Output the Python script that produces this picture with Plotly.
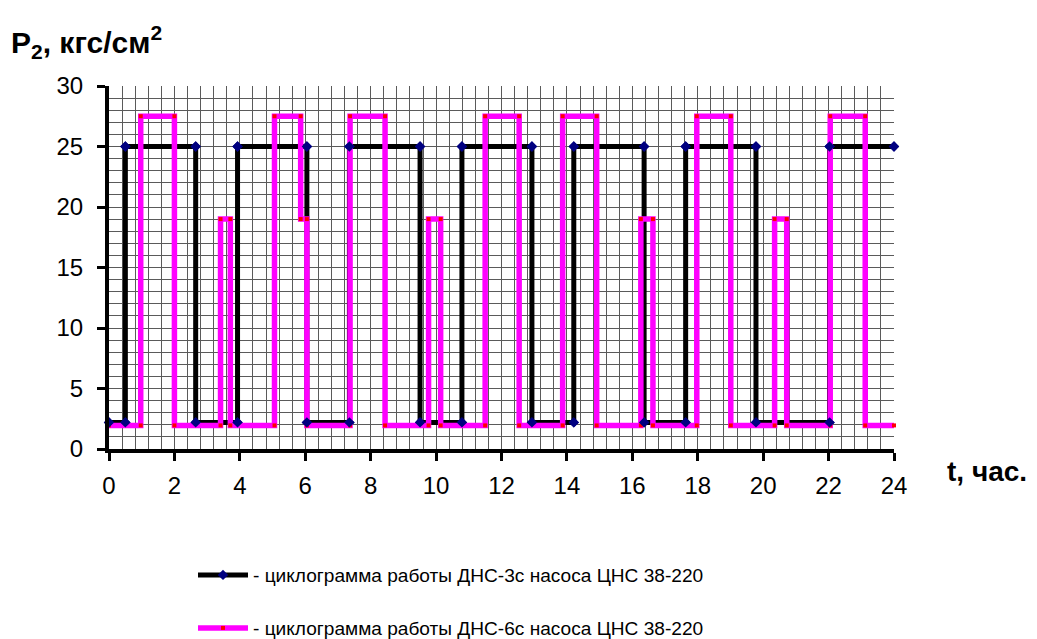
import plotly.graph_objects as go

# ДНС-3с (black) cycle: time points (h) and pressure (kgf/cm2)
t_dns3 = [0, 0.5, 0.5, 2.65, 2.65, 3.93, 3.93, 6.05, 6.05, 7.35, 7.35, 9.51, 9.51,
          10.79, 10.79, 12.93, 12.93, 14.21, 14.21, 16.36, 16.36, 17.63, 17.63,
          19.78, 19.78, 22.03, 22.03, 24]
p_dns3 = [2.2, 2.2, 25, 25, 2.2, 2.2, 25, 25, 2.2, 2.2, 25, 25, 2.2,
          2.2, 25, 25, 2.2, 2.2, 25, 25, 2.2, 2.2, 25,
          25, 2.2, 2.2, 25, 25]

# ДНС-6с (magenta) cycle
t_dns6 = [0, 0.97, 0.97, 2.0, 2.0, 3.41, 3.41, 3.71, 3.71, 5.06, 5.06, 5.86, 5.86,
          6.05, 6.05, 7.37, 7.37, 8.44, 8.44, 9.77, 9.77, 10.14, 10.14, 11.5, 11.5,
          12.54, 12.54, 13.87, 13.87, 14.91, 14.91, 16.26, 16.26, 16.63, 16.63,
          17.97, 17.97, 19.01, 19.01, 20.35, 20.35, 20.72, 20.72, 22.05, 22.05,
          23.12, 23.12, 24]
p_dns6 = [1.95, 1.95, 27.5, 27.5, 1.95, 1.95, 19, 19, 1.95, 1.95, 27.5, 27.5, 19,
          19, 1.95, 1.95, 27.5, 27.5, 1.95, 1.95, 19, 19, 1.95, 1.95, 27.5,
          27.5, 1.95, 1.95, 27.5, 27.5, 1.95, 1.95, 19, 19, 1.95,
          1.95, 27.5, 27.5, 1.95, 1.95, 19, 19, 1.95, 1.95, 27.5,
          27.5, 1.95, 1.95]

name_dns3 = "- циклограмма работы ДНС-3с насоса ЦНС 38-220"
name_dns6 = "- циклограмма работы ДНС-6с насоса ЦНС 38-220"

x_ticks = list(range(0, 25, 2))
y_ticks = list(range(0, 31, 5))

FONT = "Liberation Sans, Arial, sans-serif"
GRID = "#5a5a5a"

# page body has an 8px margin; figure is sized/offset to compensate
W, H = 1029, 631
OFF = 8
L, T = 109 - OFF, 86 - OFF
PW, PH = 785, 363
R = W - L - PW
B = H - T - PH


def px_x(x):
    return (x - OFF - L) / PW


def px_y(y):
    return (T + PH - (y - OFF)) / PH


def cont_y(y):
    return (H - (y - OFF)) / H


fig = go.Figure()
fig.add_trace(go.Scatter(
    x=t_dns3, y=p_dns3, mode="lines+markers", name=name_dns3,
    line=dict(color="#000000", width=5),
    marker=dict(symbol="diamond", size=8, color="#000080"),
    legend="legend", cliponaxis=False))
fig.add_trace(go.Scatter(
    x=t_dns6, y=p_dns6, mode="lines+markers", name=name_dns6,
    line=dict(color="#FF00FF", width=5.5),
    marker=dict(symbol="square", size=4, color="#FF0000"),
    legend="legend2", cliponaxis=False))
# markers of the first series drawn on top
fig.add_trace(go.Scatter(
    x=t_dns3, y=p_dns3, mode="markers", showlegend=False,
    marker=dict(symbol="diamond", size=8, color="#000080"),
    cliponaxis=False, hoverinfo="skip"))

leg_common = dict(xref="paper", yref="container", xanchor="left", yanchor="middle",
                  font=dict(size=19.1, family=FONT), itemwidth=50,
                  bgcolor="rgba(0,0,0,0)", borderwidth=0)

fig.update_layout(
    width=W, height=H,
    margin=dict(l=L, r=R, t=T, b=B, autoexpand=False),
    paper_bgcolor="white", plot_bgcolor="white",
    font=dict(family=FONT, color="#000000", size=20),
    showlegend=True,
    legend=dict(x=px_x(193), y=cont_y(575), **leg_common),
    legend2=dict(x=px_x(193), y=cont_y(628), **leg_common),
    xaxis=dict(range=[0, 24], tickvals=x_ticks, ticktext=[str(v) for v in x_ticks],
               showgrid=True, gridcolor=GRID, gridwidth=1,
               minor=dict(dtick=0.4, tick0=0, showgrid=True, gridcolor=GRID, gridwidth=1),
               showline=True, linecolor="#000000", linewidth=4,
               ticks="outside", ticklen=8, tickwidth=3, tickcolor="#000000",
               tickfont=dict(size=24, family=FONT), ticklabelstandoff=4,
               zeroline=False),
    yaxis=dict(range=[0, 30], tickvals=y_ticks, ticktext=[str(v) for v in y_ticks],
               showgrid=True, gridcolor=GRID, gridwidth=1,
               minor=dict(dtick=1, tick0=0, showgrid=True, gridcolor=GRID, gridwidth=1),
               showline=True, linecolor="#000000", linewidth=4,
               ticks="outside", ticklen=8, tickwidth=3, tickcolor="#000000",
               tickfont=dict(size=24, family=FONT), ticklabelstandoff=9,
               zeroline=False),
    annotations=[
        dict(text="<b>P<sub>2</sub>, кгс/см<sup>2</sup></b>", xref="paper", yref="paper",
             x=px_x(9), y=px_y(42), xanchor="left", yanchor="middle",
             showarrow=False, font=dict(size=30, family=FONT)),
        dict(text="<b>t, час.</b>", xref="paper", yref="paper",
             x=px_x(945), y=px_y(471), xanchor="left", yanchor="middle",
             showarrow=False, font=dict(size=28, family=FONT)),
    ],
)

fig.write_html("out.html")
